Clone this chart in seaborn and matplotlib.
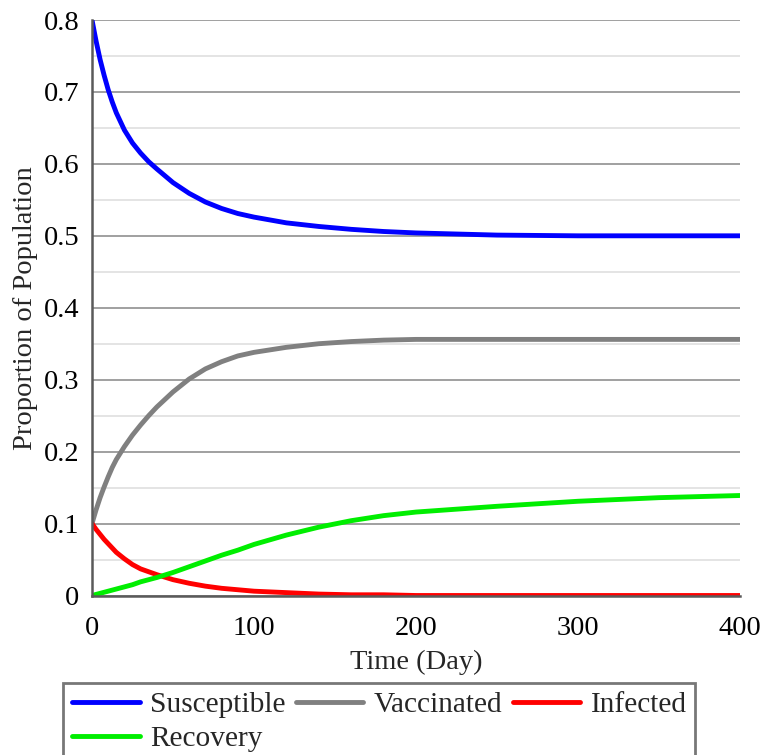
import numpy as np
import pandas as pd
import matplotlib
matplotlib.use("Agg")
import matplotlib.pyplot as plt
import seaborn as sns
from matplotlib.ticker import MultipleLocator, FuncFormatter

# ---- data ----
time = [0, 2.5, 5, 7.5, 10, 12.5, 15, 20, 25, 30, 35, 40, 50, 60, 70, 80, 90, 100,
        120, 140, 160, 180, 200, 250, 300, 350, 400]
susceptible = [0.800, 0.771, 0.745, 0.723, 0.703, 0.686, 0.671, 0.647, 0.629,
               0.615, 0.603, 0.593, 0.574, 0.559, 0.547, 0.538, 0.531, 0.526,
               0.518, 0.513, 0.509, 0.506, 0.504, 0.501, 0.500, 0.500, 0.500]
vaccinated = [0.100, 0.119, 0.136, 0.151, 0.165, 0.178, 0.189, 0.207, 0.223,
              0.237, 0.250, 0.262, 0.283, 0.301, 0.315, 0.325, 0.333, 0.338,
              0.345, 0.350, 0.353, 0.355, 0.356, 0.356, 0.356, 0.356, 0.356]
infected = [0.100, 0.092, 0.085, 0.078, 0.072, 0.066, 0.060, 0.051, 0.043,
            0.037, 0.033, 0.029, 0.022, 0.017, 0.013, 0.010, 0.008, 0.006,
            0.004, 0.002, 0.001, 0.001, 0.000, 0.000, 0.000, 0.000, 0.000]
recovery = [0.000, 0.0015, 0.003, 0.0045, 0.006, 0.0075, 0.009, 0.012, 0.015,
            0.019, 0.022, 0.025, 0.032, 0.040, 0.048, 0.056, 0.063, 0.071,
            0.084, 0.095, 0.104, 0.111, 0.116, 0.124, 0.131, 0.136, 0.139]
series_names = ["Susceptible", "Vaccinated", "Infected", "Recovery"]
series_colors = ["#0000ff", "#808080", "#ff0000", "#00ee00"]
x_ticks = [0, 100, 200, 300, 400]
y_ticks = [0, 0.1, 0.2, 0.3, 0.4, 0.5, 0.6, 0.7, 0.8]

frames = []
for name, vals in zip(series_names, [susceptible, vaccinated, infected, recovery]):
    frames.append(pd.DataFrame({"Time": time, "Value": vals, "Series": name}))
df = pd.concat(frames, ignore_index=True)

sns.set_style("white")
plt.rcParams["font.family"] = ["Liberation Serif", "DejaVu Serif"]
FS = 20.5

fig = plt.figure(figsize=(7.63, 7.55), dpi=100)
ax = fig.add_axes([92 / 763, 1 - 595.5 / 755, (740 - 92) / 763, (595.5 - 20) / 755])

sns.lineplot(data=df, x="Time", y="Value", hue="Series", hue_order=series_names,
             palette=series_colors, linewidth=3.5, ax=ax, legend=False)

ax.set_xlim(0, 400)
ax.set_ylim(0, 0.8)
ax.set_xticks(x_ticks)
ax.set_yticks(y_ticks)
ax.xaxis.set_minor_locator(MultipleLocator(50))
ax.yaxis.set_minor_locator(MultipleLocator(0.05))
ax.yaxis.set_major_formatter(FuncFormatter(lambda v, p: "0" if abs(v) < 1e-9 else f"{v:.1f}"))

ax.grid(False)
ax.grid(True, which="major", axis="y", color="#a0a0a0", linewidth=1.4)
ax.grid(True, which="minor", axis="y", color="#e4e4e4", linewidth=1.4)
ax.set_axisbelow(True)

for s in ["top", "right"]:
    ax.spines[s].set_visible(False)
for s in ["left", "bottom"]:
    ax.spines[s].set_color("#5a5a5a")
    ax.spines[s].set_linewidth(1.8)
    ax.spines[s].set_zorder(3)

ax.tick_params(axis="both", which="major", direction="out", length=6, width=1.5,
               color="#333333", labelsize=FS, labelcolor="black")
ax.tick_params(axis="both", which="minor", direction="out", length=4, width=1.3,
               color="#333333")
ax.tick_params(axis="y", which="major", pad=3)
ax.tick_params(axis="x", which="major", pad=9)

ax.set_xlabel("Time (Day)", fontsize=FS, labelpad=6)
ax.set_ylabel("Proportion of Population", fontsize=FS, labelpad=4)

# legend laid out row-wise: Susceptible, Vaccinated, Infected / Recovery
order = [0, 3, 1, 2]
handles = [plt.Line2D([], [], color=series_colors[i], linewidth=3.5) for i in order]
labels = [series_names[i] for i in order]
leg = fig.legend(handles, labels, ncol=3, loc="upper left",
                 bbox_to_anchor=(63 / 763, 1 - 683 / 755), fontsize=21.2,
                 frameon=True, fancybox=False, edgecolor="#555555",
                 handlelength=2.3, handletextpad=0.35, columnspacing=0.35,
                 borderpad=0.3, labelspacing=0.25, borderaxespad=0)
leg.get_frame().set_linewidth(2)

fig.savefig("out.png", dpi=100)
